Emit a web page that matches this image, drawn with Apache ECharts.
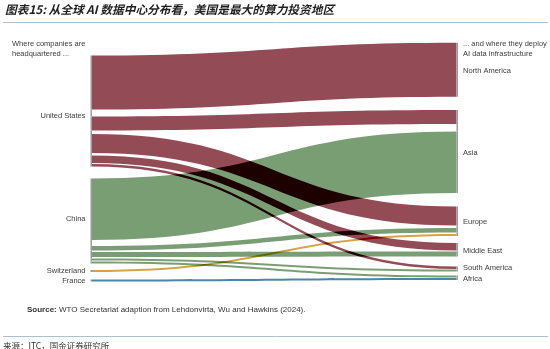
<!DOCTYPE html>
<html><head><meta charset="utf-8">
<script src="https://cdn.jsdelivr.net/npm/echarts@6/dist/echarts.min.js"></script>
<style>html,body{margin:0;padding:0;background:#fff;}#c{width:550px;height:349px;}</style>
</head><body><div id="c"></div>
<script>
// ---------------- data ----------------
const chartTitle = '图表15: 从全球 AI 数据中心分布看，美国是最大的算力投资地区';
const leftHeader = 'Where companies are\nheadquartered ...';
const rightHeader = '... and where they deploy\nAI data infrastructure';
const sourceNote = 'WTO Secretariat adaption from Lehdonvirta, Wu and Hawkins (2024).';
const footerNote = '来源：ITC，国金证券研究所';

const sources = ['United States', 'China', 'Switzerland', 'France'];
const destinations = ['North America', 'Asia', 'Europe', 'Middle East', 'South America', 'Africa'];
// flows in destination order
const usFlows          = [54, 14, 19, 7.5, 2.5, 0];
const chinaFlows       = [0, 61.5, 4.5, 5, 2, 2];
const switzerlandFlows = [0, 0, 2, 0, 0, 0];
const franceFlows      = [0, 0, 0, 0, 0, 2];

// ---------------- layout / style ----------------
const flowsBySource = [usFlows, chinaFlows, switzerlandFlows, franceFlows];
const sourceColors = ['#934b55', '#7a9e73', '#d4a444', '#4b86a8'];
const GREY = '#9b9b9b', NONE = 'rgba(0,0,0,0)';
const TOP = 42.7;
const leftTopPad = 12.8;
const leftGroupGaps = [12, 6.5, 7.5];
const leftInnerGaps = [[7, 3.5, 2.5, 1], [6, 1.5, 1.5, 1], [], []];
const rightGroupGaps = [13.3, 13.5, 7, 10, 4];
const rightInnerGaps = [[], [7.5], [2.5, 1.5], [1], [0.5], [0.5]];
const leftLabelNudge = [4.5, -2, 0, 0];
const rightLabelNudge = [1.5, 1, 1, 1, -1, 1.5];

const leftNodes = [], rightNodes = [], links = [];
let gapN = 0;
function gapNode(depth, v, visible) {
  return { name: '__gap' + (gapN++), value: v, depth: depth,
    itemStyle: { color: visible ? GREY : NONE }, label: { show: false } };
}

// left column
let y = 0;
leftNodes.push(gapNode(0, leftTopPad, false)); y += leftTopPad;
sources.forEach((src, s) => {
  if (s > 0) { leftNodes.push(gapNode(0, leftGroupGaps[s - 1], false)); y += leftGroupGaps[s - 1]; }
  const start = y; let first = null, firstC = 0, k = 0;
  flowsBySource[s].forEach((v, d) => {
    if (!v) return;
    if (k > 0) { const g = leftInnerGaps[s][k - 1]; leftNodes.push(gapNode(0, g, true)); y += g; }
    const node = { name: 'L' + s + '_' + d, value: v, depth: 0, itemStyle: { color: GREY }, label: { show: false } };
    if (!first) { first = node; firstC = y + v / 2; }
    leftNodes.push(node); y += v; k++;
    links.push({ source: 'L' + s + '_' + d, target: 'R' + s + '_' + d, value: v,
      lineStyle: { color: sourceColors[s] } });
  });
  const center = (start + y) / 2 + leftLabelNudge[s];
  first.label = { show: true, position: 'left', formatter: src, offset: [0, center - firstC] };
});
const leftTotal = y;

// right column
y = 0;
destinations.forEach((dst, d) => {
  if (d > 0) { rightNodes.push(gapNode(1, rightGroupGaps[d - 1], false)); y += rightGroupGaps[d - 1]; }
  const start = y; let first = null, firstC = 0, k = 0;
  flowsBySource.forEach((arr, s) => {
    const v = arr[d];
    if (!v) return;
    if (k > 0) { const g = rightInnerGaps[d][k - 1]; rightNodes.push(gapNode(1, g, true)); y += g; }
    const node = { name: 'R' + s + '_' + d, value: v, depth: 1, itemStyle: { color: GREY }, label: { show: false } };
    if (!first) { first = node; firstC = y + v / 2; }
    rightNodes.push(node); y += v; k++;
  });
  const center = (start + y) / 2 + rightLabelNudge[d];
  first.label = { show: true, position: 'right', formatter: dst, offset: [0, center - firstC] };
});
const rightTotal = y;
const H = Math.max(leftTotal, rightTotal);
if (leftTotal < H) leftNodes.push(gapNode(0, H - leftTotal, false));
if (rightTotal < H) rightNodes.push(gapNode(1, H - rightTotal, false));

const FONT = '"Liberation Sans", Arial, sans-serif';
const TXT = '#3d3d3d';

const chart = echarts.init(document.getElementById('c'), null, { renderer: 'canvas' });
chart.setOption({
  animation: false,
  backgroundColor: 'transparent',
  title: [
    { text: chartTitle, left: 5, top: 3, padding: 0,
      textStyle: { fontSize: 11.7, fontWeight: 'bold', fontStyle: 'italic', color: '#1f1f1f',
        fontFamily: '"Noto Sans CJK SC", sans-serif', lineHeight: 14 } },
    { text: leftHeader, left: 12, top: 39.3, padding: 0,
      textStyle: { fontSize: 7.5, fontWeight: 'normal', color: TXT, lineHeight: 9.5, fontFamily: FONT } },
    { text: rightHeader, left: 463, top: 39.3, padding: 0,
      textStyle: { fontSize: 7.5, fontWeight: 'normal', color: TXT, lineHeight: 9.5, fontFamily: FONT } },
    { text: '{b|Source:} ' + sourceNote, left: 27, top: 305, padding: 0,
      textStyle: { fontSize: 8, fontWeight: 'normal', color: '#333', fontFamily: FONT, lineHeight: 10,
        rich: { b: { fontSize: 8, fontWeight: 'bold', color: '#333', fontFamily: FONT, lineHeight: 10 } } } },
    { text: footerNote, left: 3, top: 340.5, padding: 0,
      textStyle: { fontSize: 8.5, fontWeight: 'normal', color: '#333',
        fontFamily: '"Noto Sans CJK SC", sans-serif', lineHeight: 10 } }
  ],
  graphic: [
    { type: 'line', shape: { x1: 3, y1: 22.5, x2: 548, y2: 22.5 }, style: { stroke: '#a9c0d4', lineWidth: 1 } },
    { type: 'line', shape: { x1: 3, y1: 336.5, x2: 548, y2: 336.5 }, style: { stroke: '#a9c0d4', lineWidth: 1 } }
  ],
  series: [{
    type: 'sankey',
    left: 90.5, top: TOP, width: 367.5, height: H,
    nodeWidth: 1.5, nodeGap: 0, layoutIterations: 0, nodeAlign: 'left',
    draggable: false,
    emphasis: { disabled: true },
    label: { fontSize: 7.5, color: TXT, fontFamily: FONT, distance: 5 },
    lineStyle: { opacity: 1, curveness: 0.5 },
    data: leftNodes.concat(rightNodes),
    links: links
  }]
});

// overlapping flows darken like the original (colour-burn blend)
const zr = chart.getZr();
zr.storage.getDisplayList(true).forEach(el => {
  if (el.shape && 'cpx1' in el.shape && 'cpx2' in el.shape) {
    el.style.blend = 'color-burn';
    el.markRedraw();
  }
});
zr.refreshImmediately();
</script></body></html>
